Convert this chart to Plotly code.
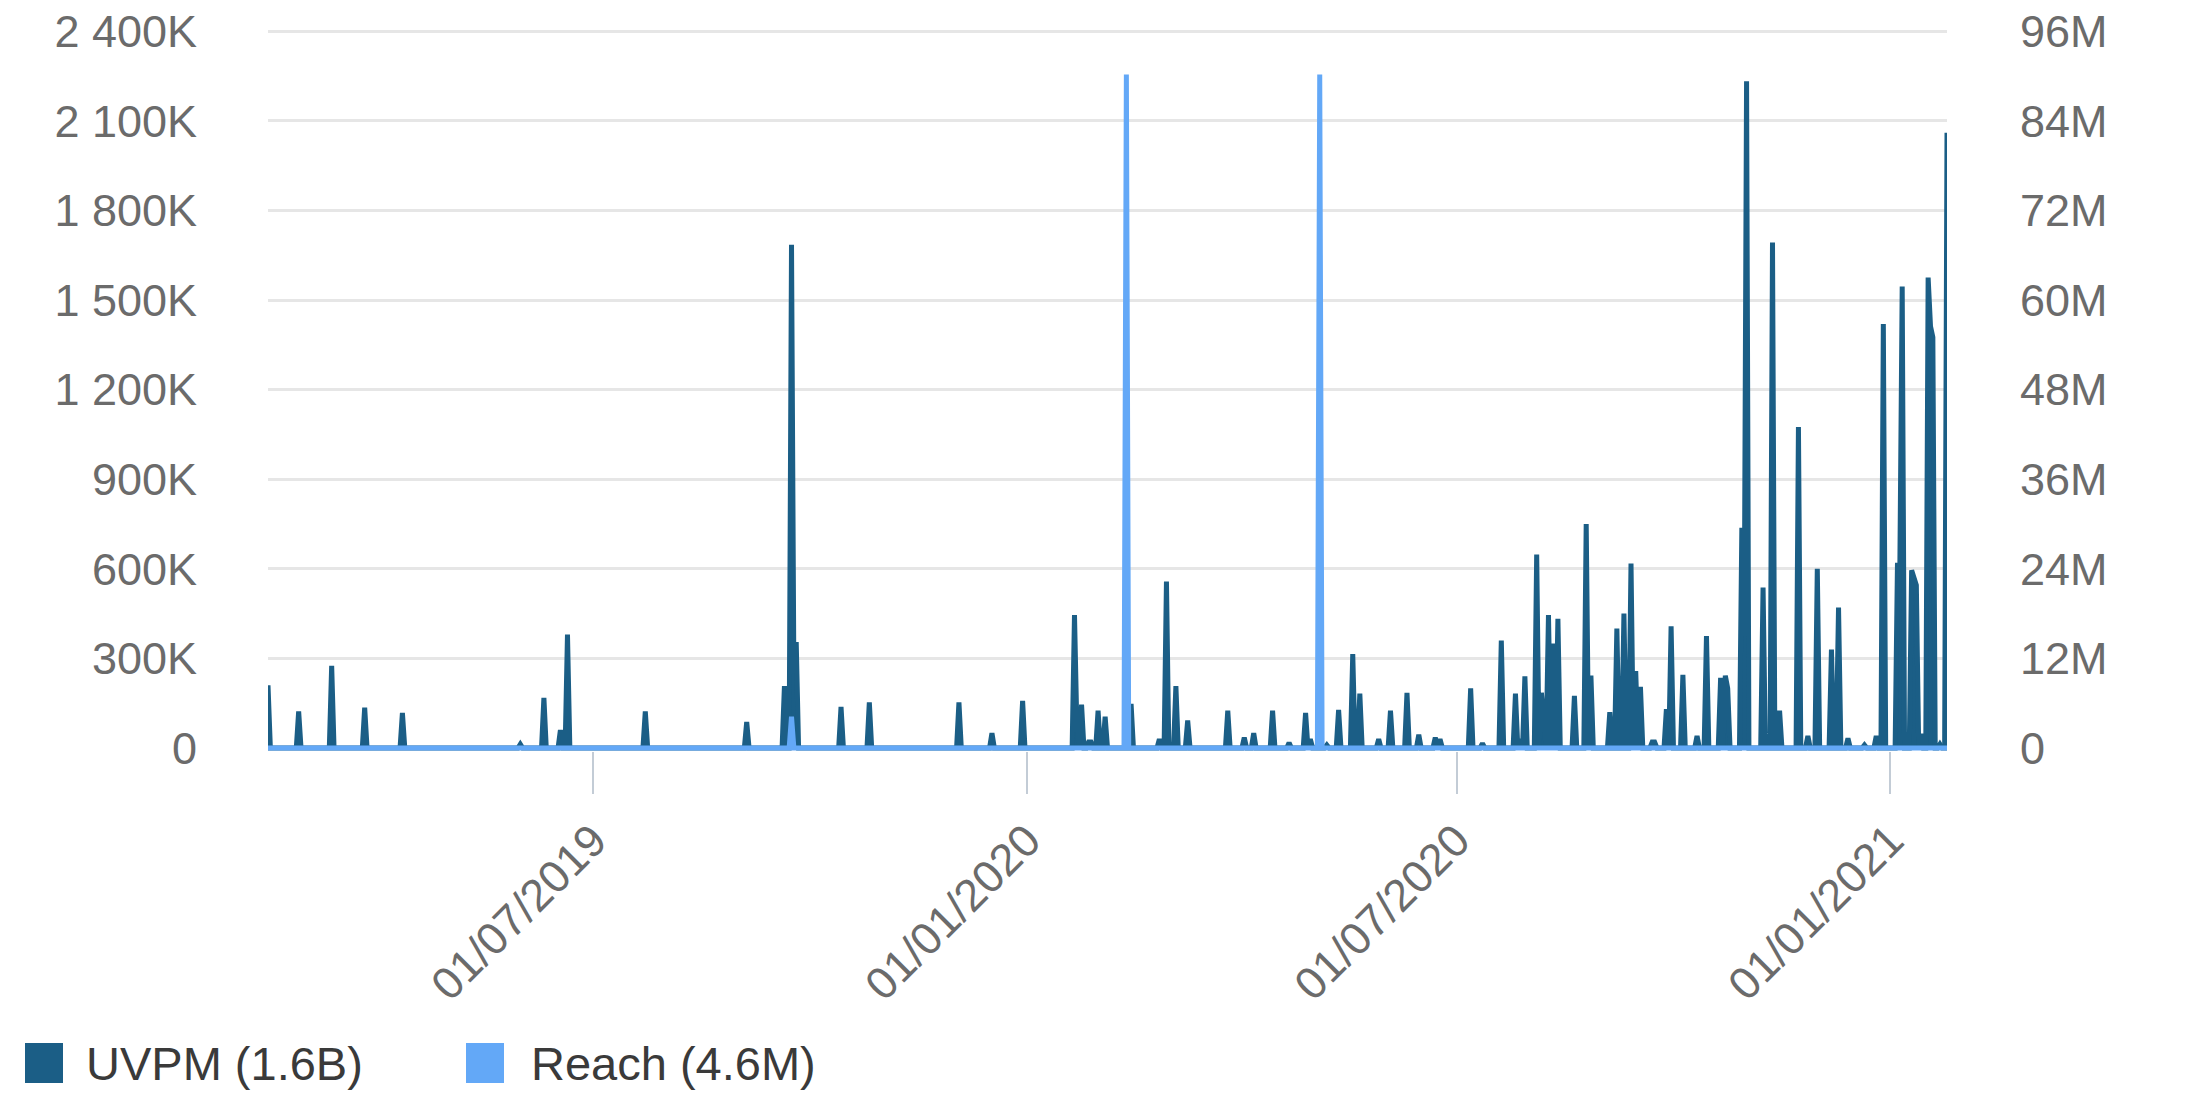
import pandas as pd
import plotly.graph_objects as go

# UVPM daily peaks (millions, right axis); every other day is 0
uvpm_dates = [
    "2019-02-13", "2019-02-26", "2019-03-12", "2019-03-26", "2019-04-11", "2019-05-31",
    "2019-06-10", "2019-06-17", "2019-06-20", "2019-07-23", "2019-09-04", "2019-09-20",
    "2019-09-23", "2019-09-24", "2019-09-25", "2019-10-14", "2019-10-26", "2019-12-03",
    "2019-12-17", "2019-12-30", "2020-01-21", "2020-01-22", "2020-01-24", "2020-01-27",
    "2020-01-28", "2020-01-31", "2020-02-03", "2020-02-14", "2020-02-26", "2020-02-29",
    "2020-03-04", "2020-03-09", "2020-03-26", "2020-04-02", "2020-04-06", "2020-04-14",
    "2020-04-21", "2020-04-28", "2020-04-30", "2020-05-07", "2020-05-12", "2020-05-18",
    "2020-05-21", "2020-05-29", "2020-06-03", "2020-06-10", "2020-06-15", "2020-06-22",
    "2020-06-24", "2020-07-07", "2020-07-12", "2020-07-20", "2020-07-26", "2020-07-28",
    "2020-07-30", "2020-08-04", "2020-08-06", "2020-08-07", "2020-08-09", "2020-08-11",
    "2020-08-13", "2020-08-20", "2020-08-25", "2020-08-27", "2020-09-04", "2020-09-07",
    "2020-09-10", "2020-09-13", "2020-09-15", "2020-09-17", "2020-09-22", "2020-09-23",
    "2020-09-28", "2020-09-30", "2020-10-05", "2020-10-11", "2020-10-15", "2020-10-21",
    "2020-10-23", "2020-10-24", "2020-10-30", "2020-10-31", "2020-11-01", "2020-11-08",
    "2020-11-12", "2020-11-15", "2020-11-23", "2020-11-27", "2020-12-01", "2020-12-07",
    "2020-12-10", "2020-12-14", "2020-12-21", "2020-12-26", "2020-12-29", "2021-01-04",
    "2021-01-05", "2021-01-06", "2021-01-10", "2021-01-11", "2021-01-12", "2021-01-14",
    "2021-01-17", "2021-01-18", "2021-01-19", "2021-01-22", "2021-01-25",
]
uvpm_values = [
    8.4, 4.9, 11.0, 5.4, 4.7, 0.5,
    6.7, 2.4, 15.2, 4.9, 3.5, 8.3,
    67.4, 10.0, 14.2, 5.5, 6.1, 6.1,
    2.0, 6.3, 17.8, 3.0, 5.8, 0.8,
    0.8, 5.0, 4.2, 5.9, 1.2, 22.3,
    8.3, 3.7, 5.0, 1.4, 2.0, 5.0,
    0.7, 4.7, 1.2, 0.4, 5.1, 12.6,
    7.3, 1.2, 5.0, 7.4, 1.8, 1.4,
    1.2, 8.0, 0.6, 14.4, 7.3, 1.2,
    9.6, 25.9, 7.4, 4.0, 17.8, 14.0,
    17.3, 7.0, 30.0, 9.7, 4.8, 16.0,
    18.0, 24.7, 10.3, 8.2, 0.8, 0.8,
    5.2, 16.3, 9.8, 1.6, 15.0, 9.4,
    9.7, 8.0, 29.5, 15.0, 89.3, 21.5,
    67.7, 5.0, 43.0, 1.6, 24.0, 13.2,
    18.8, 1.3, 0.4, 1.6, 56.8, 24.8,
    24.0, 61.8, 23.8, 22.5, 21.8, 1.9,
    63.0, 56.5, 55.0, 0.5, 82.4,
]

# Reach daily peaks (thousands, left axis); every other day is 0
reach_dates = ["2019-09-23", "2020-02-12", "2020-05-04"]
reach_values = [105, 2255, 2255]

start, end = "2019-02-13", "2021-01-25"
days = pd.date_range(start, end, freq="D")
uvpm = pd.Series(0.0, index=days)
uvpm[pd.to_datetime(uvpm_dates)] = uvpm_values
reach = pd.Series(0.0, index=days)
reach[pd.to_datetime(reach_dates)] = reach_values

x_ticks = ["2019-07-01", "2020-01-01", "2020-07-01", "2021-01-01"]
x_labels = ["01/07/2019", "01/01/2020", "01/07/2020", "01/01/2021"]
m_ticks = [0, 12, 24, 36, 48, 60, 72, 84, 96]
m_labels = ["0", "12M", "24M", "36M", "48M", "60M", "72M", "84M", "96M"]
k_ticks = [0, 300, 600, 900, 1200, 1500, 1800, 2100, 2400]
k_labels = ["0", "300K", "600K", "900K", "1 200K", "1 500K", "1 800K", "2 100K", "2 400K"]

DARK = "#1b5e86"
LIGHT = "#63a8f7"
FONT = "Liberation Sans, Arial, sans-serif"
OFF = 8                       # page body margin around the plot div
W, H = 2193 - OFF, 1097 - OFF
L, R, T, B = 260, 1939, 21, 743   # plot area in figure pixels


def px(x):
    # page pixel -> paper coordinate
    return (x - OFF - L) / (R - L)


def py(y):
    return (B - (y - OFF)) / (B - T)


fig = go.Figure()
fig.add_trace(go.Scatter(x=uvpm.index, y=uvpm.values, yaxis="y", mode="lines",
                         line=dict(color=DARK, width=5), fill="tozeroy",
                         fillcolor=DARK, name="UVPM (1.6B)"))
fig.add_trace(go.Scatter(x=reach.index, y=reach.values, yaxis="y2", mode="lines",
                         line=dict(color=LIGHT, width=5), fill="tozeroy",
                         fillcolor=LIGHT, name="Reach (4.6M)"))

tick_font = dict(family=FONT, size=45, color="#6b6b6b")

fig.update_layout(
    width=W, height=H,
    margin=dict(l=L, r=W - R, t=T, b=H - B),
    paper_bgcolor="white", plot_bgcolor="white",
    showlegend=False,
    xaxis=dict(range=[start, end], tickvals=x_ticks, ticktext=x_labels,
               tickangle=-45, tickfont=tick_font, ticks="outside", ticklen=42,
               tickwidth=2, tickcolor="#c3ccd6", showgrid=False, zeroline=False,
               showline=False, ticklabelstandoff=2, automargin=False),
    yaxis=dict(side="right", range=[-0.4, 96.3], tickvals=m_ticks, ticktext=m_labels,
               tickfont=tick_font, showgrid=True, gridcolor="#e6e6e6", gridwidth=3,
               zeroline=False, showline=False, ticks="", ticklabelstandoff=72,
               ticklabeloverflow="allow", automargin=False),
    yaxis2=dict(side="left", overlaying="y", range=[-10, 2407.5], tickvals=k_ticks,
                ticktext=k_labels, tickfont=tick_font, showgrid=False,
                zeroline=False, showline=False, ticks="", ticklabelstandoff=70,
                ticklabeloverflow="allow", automargin=False),
)

# legend drawn by hand so the swatches can be as large as in the original
legend_items = [("UVPM (1.6B)", DARK, 25, 84), ("Reach (4.6M)", LIGHT, 466, 529)]
for label, color, sx, tx in legend_items:
    fig.add_shape(type="rect", xref="paper", yref="paper",
                  x0=px(sx), x1=px(sx + 38), y0=py(1083), y1=py(1043),
                  fillcolor=color, line=dict(width=0))
    fig.add_annotation(xref="paper", yref="paper", x=px(tx), y=py(1063),
                       text=label, showarrow=False, xanchor="left", yanchor="middle",
                       font=dict(family=FONT, size=47, color="#3a3a3a"))

fig.write_html("out.html")
